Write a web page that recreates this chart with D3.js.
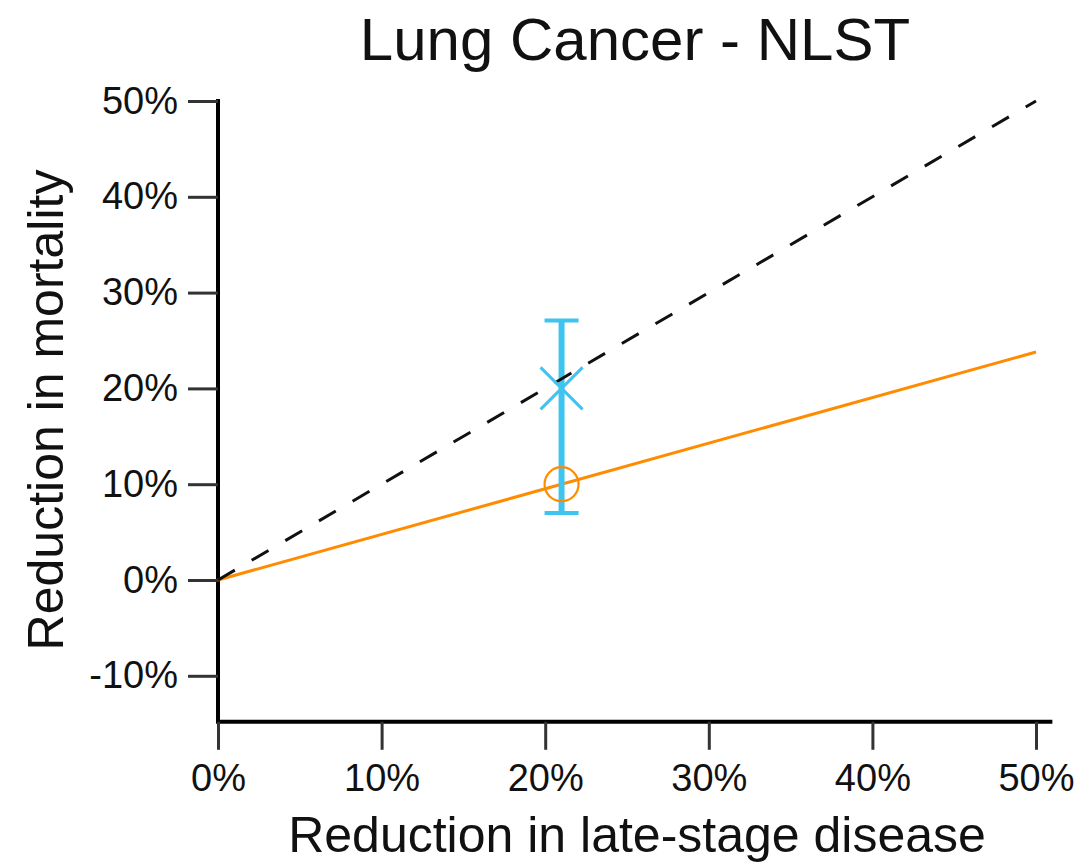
<!DOCTYPE html>
<html>
<head>
<meta charset="utf-8">
<script src="https://cdn.jsdelivr.net/npm/d3@7"></script>
<style>
  html, body { margin: 0; padding: 0; background: #fff; }
  svg { display: block; font-family: "Liberation Sans", Arial, sans-serif; }
</style>
</head>
<body>
<svg id="chart" width="1076" height="862"></svg>
<script>
// Axis ticks (fractions, shown as percentages)
const xTicks = [0, 0.1, 0.2, 0.3, 0.4, 0.5];
const yTicks = [-0.1, 0, 0.1, 0.2, 0.3, 0.4, 0.5];

// Identity reference: mortality reduction equals late-stage reduction
const identityX = [0, 0.5];
const identityY = [0, 0.5];

// Model-predicted mortality reduction
const modelX = [0, 0.5];
const modelY = [0, 0.238];

// NLST trial: observed late-stage reduction and mortality reduction with CI
const trialX = [0.21];
const trialMortality = [0.20];
const trialLow = [0.07];
const trialHigh = [0.271];
// Model prediction at the trial's late-stage reduction
const predictedMortality = [0.10];

const svg = d3.select("#chart");
const x = d3.scaleLinear().domain([0, 0.5]).range([218, 1036]);
const y = d3.scaleLinear().domain([0, 0.5]).range([580, 101]);
const yBottom = -0.148;
const xRight = 0.51;
// Plain hyphen for negative values
const pct = d => Math.round(d * 100) + "%";

// Axis lines
svg.append("line")
  .attr("x1", x(0)).attr("x2", x(0))
  .attr("y1", y(0.5)).attr("y2", y(yBottom))
  .attr("stroke", "#000").attr("stroke-width", 4).attr("stroke-linecap", "square");
svg.append("line")
  .attr("x1", x(0)).attr("x2", x(xRight))
  .attr("y1", y(yBottom)).attr("y2", y(yBottom))
  .attr("stroke", "#000").attr("stroke-width", 4);

// X axis ticks and labels
const gx = svg.append("g")
  .attr("transform", `translate(0,${y(yBottom)})`)
  .call(d3.axisBottom(x).tickValues(xTicks).tickFormat(pct)
    .tickSize(28).tickSizeOuter(0).tickPadding(14));
gx.select(".domain").remove();
gx.selectAll(".tick line").attr("stroke", "#333").attr("stroke-width", 3);
gx.selectAll(".tick text").attr("fill", "#111").style("font-size", "38px")
  .style("font-family", "Liberation Sans, Arial, sans-serif");

// Y axis ticks and labels
const gy = svg.append("g")
  .attr("transform", `translate(${x(0)},0)`)
  .call(d3.axisLeft(y).tickValues(yTicks).tickFormat(pct)
    .tickSize(30).tickSizeOuter(0).tickPadding(10));
gy.select(".domain").remove();
gy.selectAll(".tick line").attr("stroke", "#333").attr("stroke-width", 3);
gy.selectAll(".tick text").attr("fill", "#111").style("font-size", "38px")
  .style("font-family", "Liberation Sans, Arial, sans-serif");

// Model line
const line = d3.line().x(d => x(d[0])).y(d => y(d[1]));
svg.append("path")
  .datum(d3.zip(modelX, modelY))
  .attr("d", line)
  .attr("fill", "none").attr("stroke", "#FF8C00").attr("stroke-width", 3);

// Confidence interval for the observed trial result
const ciColor = "#3FC3EF";
svg.selectAll(".ci")
  .data(d3.range(trialX.length))
  .join("g")
  .each(function(i) {
    const g = d3.select(this);
    const cx = x(trialX[i]);
    g.append("line")
      .attr("x1", cx).attr("x2", cx)
      .attr("y1", y(trialHigh[i])).attr("y2", y(trialLow[i]))
      .attr("stroke", ciColor).attr("stroke-width", 6);
    [trialHigh[i], trialLow[i]].forEach(v => {
      g.append("line")
        .attr("x1", cx - 17).attr("x2", cx + 17)
        .attr("y1", y(v)).attr("y2", y(v))
        .attr("stroke", ciColor).attr("stroke-width", 4);
    });
  });

// Identity line (dashed)
svg.append("path")
  .datum(d3.zip(identityX, identityY))
  .attr("d", line)
  .attr("fill", "none").attr("stroke", "#111").attr("stroke-width", 3)
  .attr("stroke-dasharray", "19.5,19.5");

// Observed trial point (cross)
svg.selectAll(".obs")
  .data(d3.zip(trialX, trialMortality))
  .join("path")
  .attr("d", d => {
    const cx = x(d[0]), cy = y(d[1]), r = 21;
    return `M${cx - r},${cy - r}L${cx + r},${cy + r}M${cx - r},${cy + r}L${cx + r},${cy - r}`;
  })
  .attr("stroke", ciColor).attr("stroke-width", 3).attr("fill", "none");

// Predicted point (open circle)
svg.selectAll(".pred")
  .data(d3.zip(trialX, predictedMortality))
  .join("circle")
  .attr("cx", d => x(d[0])).attr("cy", d => y(d[1])).attr("r", 17)
  .attr("fill", "none").attr("stroke", "#FF8C00").attr("stroke-width", 2.2);

// Titles
svg.append("text")
  .attr("x", 635).attr("y", 60)
  .attr("text-anchor", "middle")
  .style("font-size", "60px").attr("fill", "#111")
  .text("Lung Cancer - NLST");

svg.append("text")
  .attr("x", 637).attr("y", 852)
  .attr("text-anchor", "middle")
  .style("font-size", "50px").attr("fill", "#111")
  .text("Reduction in late-stage disease");

svg.append("text")
  .attr("transform", "translate(63,410) rotate(-90)")
  .attr("text-anchor", "middle")
  .style("font-size", "50px").attr("fill", "#111")
  .text("Reduction in mortality");
</script>
</body>
</html>
